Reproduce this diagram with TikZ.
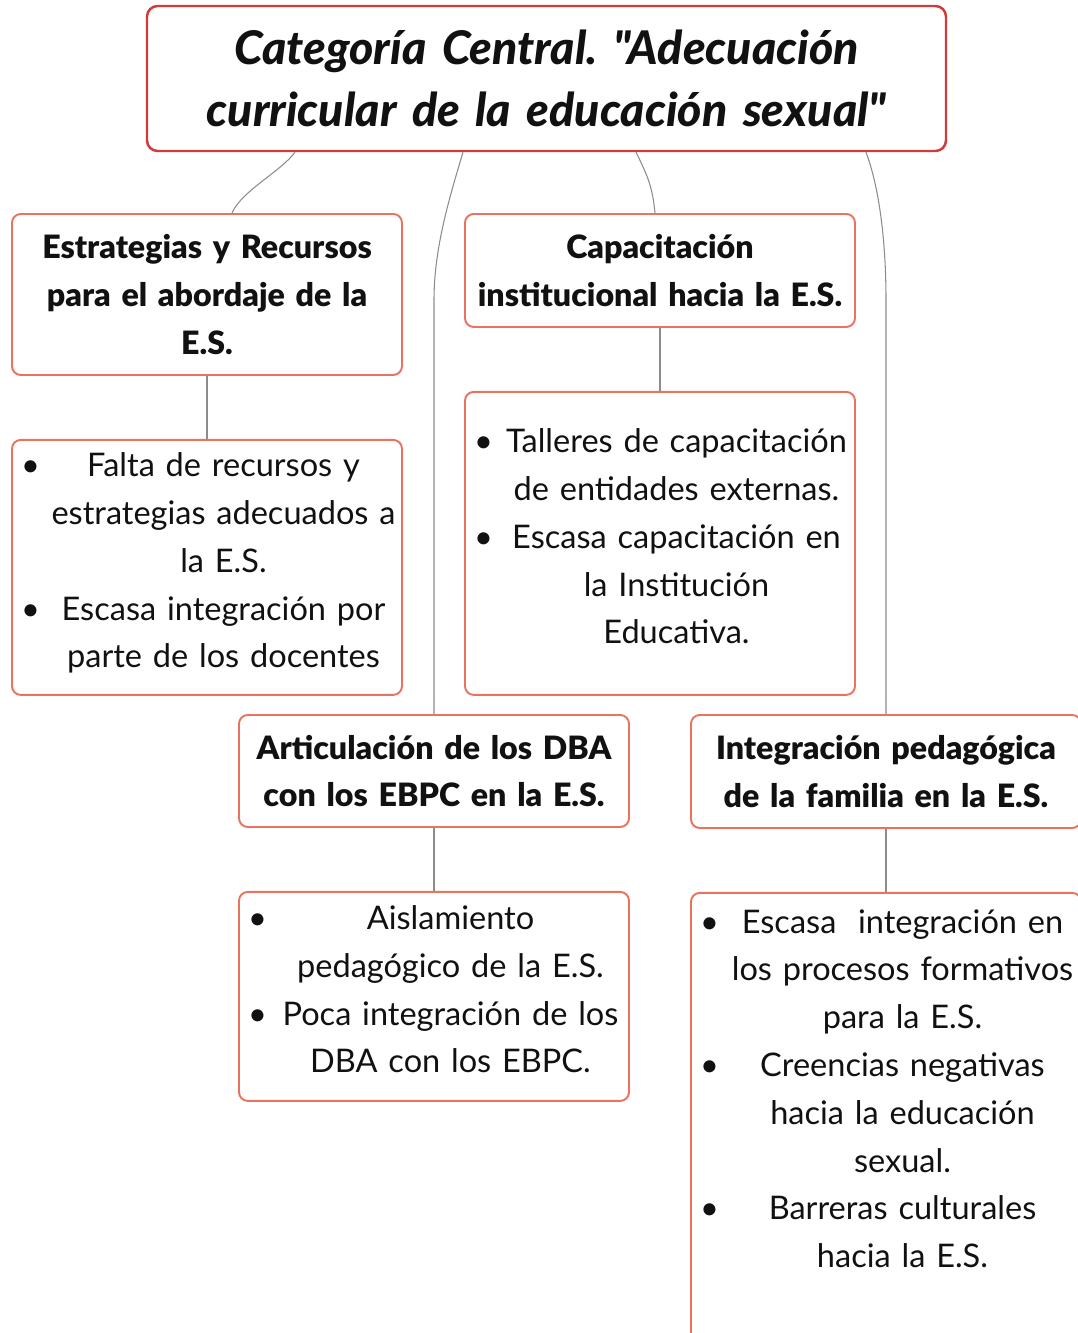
\documentclass[tikz,border=0pt]{standalone}
\usepackage{fontspec}
\setmainfont{Lato}
\newfontfamily\heavy{Lato Black}[ItalicFont={Lato Black Italic},Ligatures=TeXOff]
\usepackage{xcolor}
\usepackage{tikz}
\usetikzlibrary{positioning}
\definecolor{rim}{HTML}{D13B3B}
\definecolor{coral}{HTML}{E8735F}
\definecolor{wire}{HTML}{8C8C8C}
\definecolor{ink}{HTML}{111111}
\frenchspacing
\newcommand{\punto}[1]{\makebox[0.66cm][l]{\hspace{0.13cm}\textbullet}\parbox[t]{7.04cm}{\centering #1\strut}\par\prevdepth=\dp\strutbox}
\tikzset{top/.style={draw=rim,line width=1.4pt,rounded corners=6pt,fill=white,text=ink,text width=15.78cm,inner xsep=0.1cm,minimum height=2.9cm,align=center,font=\fontsize{26.4}{35}\selectfont\heavy\itshape},head/.style={draw=coral,line width=1.1pt,rounded corners=5pt,fill=white,text=ink,text width=7.6cm,inner xsep=0.1cm,align=center,font=\fontsize{18.3}{27.2}\selectfont\heavy},list/.style={draw=coral,line width=1.1pt,rounded corners=5pt,fill=white,text=ink,text width=7.7cm,inner xsep=0.05cm,inner ysep=0.15cm,align=left,font=\fontsize{18.5}{27.2}\selectfont},link/.style={draw=wire,line width=0.6pt}}

\begin{document}
\begin{tikzpicture}[node distance=1.26cm]
\path[use as bounding box,fill=white] (0,0) rectangle (21.56,-26.66);
\node[top] (c) at (10.93,-1.57) {Categoría Central. "Adecuación\\curricular de la educación sexual"};
\node[head,minimum height=3.22cm,anchor=north] (e) at (4.14,-4.26) {Estrategias y Recursos\\para el abordaje de la\\E.S.};
\node[list,minimum height=5.1cm,below=of e] (e1) {\punto{Falta de recursos y\\estrategias adecuados a\\la E.S.}\punto{Escasa integración por\\parte de los docentes}};
\node[head,minimum height=2.26cm,anchor=north] (k) at (13.2,-4.26) {Capacitación\\institucional hacia la E.S.};
\node[list,minimum height=6.06cm,below=of k] (k1) {\punto{Talleres de capacitación\\de entidades externas.}\punto{Escasa capacitación en\\la Institución\\Educativa.}};
\node[head,minimum height=2.24cm,anchor=north] (a) at (8.68,-14.28) {Articulación de los DBA\\con los EBPC en la E.S.};
\node[list,minimum height=4.18cm,below=of a] (a1) {\punto{Aislamiento\\pedagógico de la E.S.}\punto{Poca integración de los\\DBA con los EBPC.}};
\node[head,minimum height=2.26cm,anchor=north] (i) at (17.72,-14.28) {Integración pedagógica\\de la familia en la E.S.};
\node[list,inner ysep=0.33cm,text depth=8.6cm,below=of i] (i1) {\punto{Escasa\ \ integración en\\los procesos formativos\\para la E.S.}\punto{Creencias negativas\\hacia la educación\\sexual.}\punto{Barreras culturales\\hacia la E.S.}};
\draw[link] ([xshift=-5.03cm]c.south) .. controls +(-0.3,-0.4) and +(0.2,0.45) .. ([xshift=0.5cm]e.north);
\draw[link] ([xshift=-1.67cm]c.south) .. controls +(-0.3,-1.0) and +(0,1.0) .. ([yshift=8.28cm]a.north) -- (a.north);
\draw[link] ([xshift=1.79cm]c.south) .. controls +(0.25,-0.5) and +(-0.05,0.5) .. ([xshift=-0.1cm]k.north);
\draw[link] ([xshift=6.39cm]c.south) .. controls +(0.3,-0.8) and +(0,1.0) .. ([yshift=8.28cm]i.north) -- (i.north);
\draw[link] (e.south) -- (e1.north);\draw[link] (k.south) -- (k1.north);\draw[link] (a.south) -- (a1.north);\draw[link] (i.south) -- (i1.north);
\end{tikzpicture}
\end{document}
